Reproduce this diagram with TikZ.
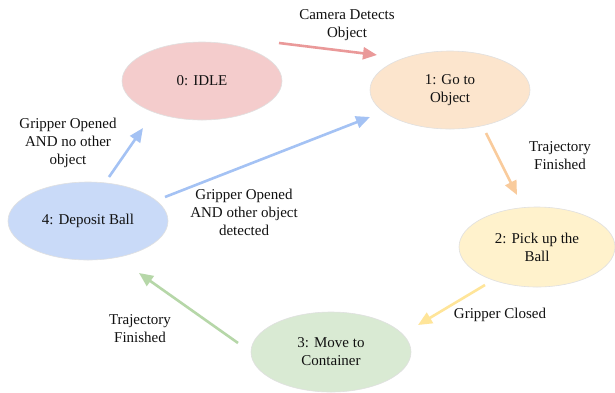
\documentclass[tikz,border=0pt]{standalone}
\usepackage{fontspec}
\setmainfont{Liberation Serif}
\usetikzlibrary{arrows.meta,shapes.geometric}
\definecolor{fidle}{HTML}{F4CCCC}
\definecolor{fgo}{HTML}{FCE5CD}
\definecolor{fpick}{HTML}{FFF2CC}
\definecolor{fmove}{HTML}{D9EAD3}
\definecolor{fdep}{HTML}{C9DAF8}
\definecolor{ared}{HTML}{EA9999}
\definecolor{aorange}{HTML}{F9CB9C}
\definecolor{ayellow}{HTML}{FFE599}
\definecolor{agreen}{HTML}{B6D7A8}
\definecolor{ablue}{HTML}{A4C2F4}
\definecolor{txt}{HTML}{111111}
\begin{document}
\begin{tikzpicture}[x=1pt,y=-1pt,
  state/.style={ellipse, draw=black!12, line width=0.6pt, minimum width=160pt,
    minimum height=78pt, inner sep=0pt, align=center, text=txt,
    font=\fontsize{15}{18}\selectfont},
  lab/.style={align=center, inner sep=0pt, text=txt, font=\fontsize{15}{18}\selectfont},
  arr/.style={line width=2.6pt, -{Triangle[length=14pt,width=12pt]}}]
\useasboundingbox[fill=white] (0,0) rectangle (615,392);
% states
\node[state, fill=fidle] (n0) at (202,81) {0: IDLE};
\node[state, fill=fgo] (n1) at (450,90) {1: Go to\\Object};
\node[state, fill=fpick, minimum width=156pt, minimum height=80pt] (n2) at (537,247) {2: Pick up the\\Ball};
\node[state, fill=fmove, minimum height=80pt] (n3) at (331,352) {3: Move to\\Container};
\node[state, fill=fdep] (n4) at (88,221) {4: Deposit Ball};
% connector end points
\coordinate (r0) at (279,43);   \coordinate (r1) at (377,55);
\coordinate (o0) at (486,133);  \coordinate (o1) at (517,195);
\coordinate (y0) at (485,285);  \coordinate (y1) at (418,325);
\coordinate (g0) at (238,343);  \coordinate (g1) at (139,273);
\coordinate (b0) at (109,177);  \coordinate (b1) at (143,128);
\coordinate (c0) at (165,197);  \coordinate (c1) at (370,117);
% connectors
\draw[arr, ared] (r0) -- (r1);
\draw[arr, aorange] (o0) -- (o1);
\draw[arr, ayellow] (y0) -- (y1);
\draw[arr, agreen] (g0) -- (g1);
\draw[arr, ablue] (b0) -- (b1);
\draw[arr, ablue] (c0) -- (c1);
% labels
\node[lab] (l01) at (347,25) {Camera Detects\\Object};
\node[lab] (l12) at (560,156) {Trajectory\\Finished};
\node[lab] (l23) at (500,315) {Gripper Closed};
\node[lab] (l34) at (140,329) {Trajectory\\Finished};
\node[lab] (l40) at (68,143) {Gripper Opened\\AND no other\\object};
\node[lab] (l41) at (244,212) {Gripper Opened\\AND other object\\detected};
\end{tikzpicture}
\end{document}
